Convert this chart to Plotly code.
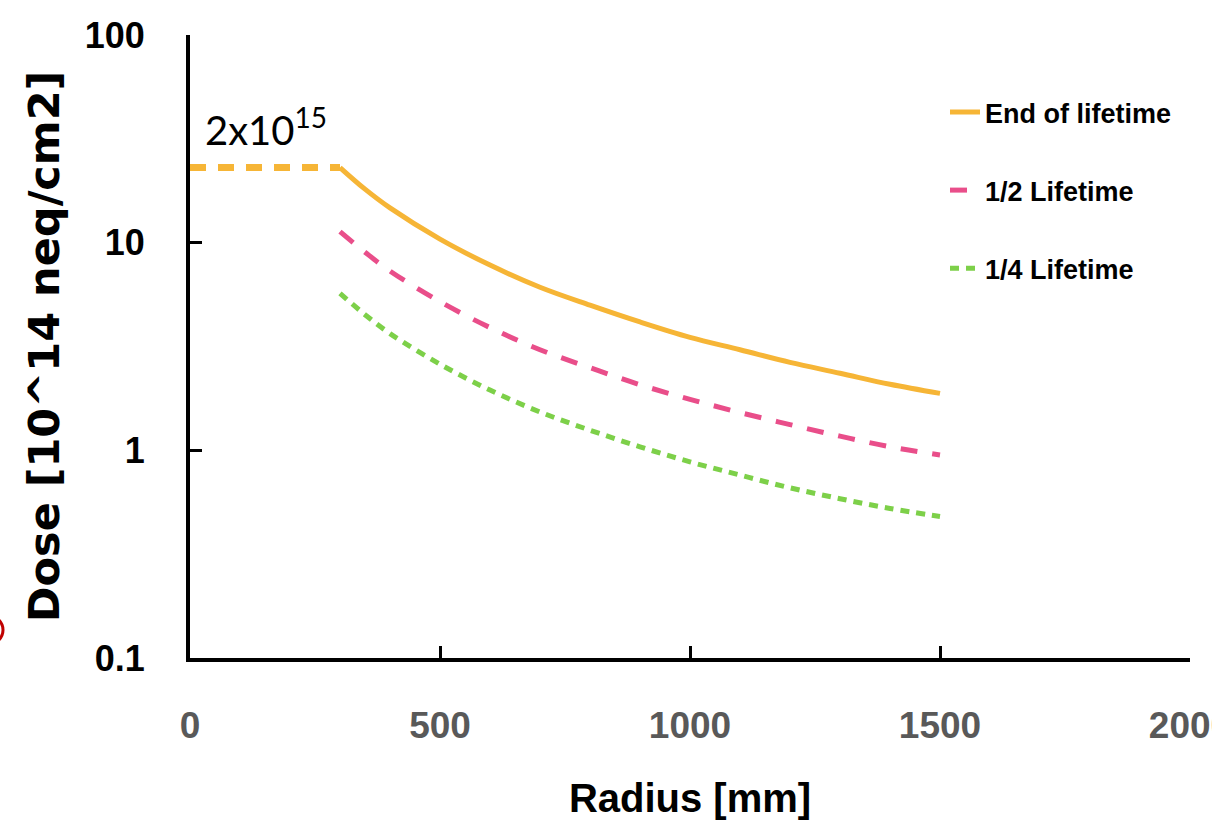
import plotly.graph_objects as go

# ---- data ----
radius = [300, 350, 400, 500, 600, 700, 800, 900, 1000, 1100, 1200, 1300, 1400, 1500]
end_of_lifetime = [23.0, 18.1, 14.7, 10.4, 7.8, 6.1, 5.0, 4.15, 3.5, 3.05, 2.65, 2.35, 2.08, 1.88]
half_lifetime = [11.3, 9.0, 7.3, 5.2, 3.9, 3.05, 2.5, 2.07, 1.76, 1.52, 1.33, 1.17, 1.04, 0.95]
quarter_lifetime = [5.7, 4.5, 3.65, 2.6, 1.95, 1.53, 1.25, 1.04, 0.88, 0.76, 0.66, 0.585, 0.525, 0.48]

flat_radius = [0, 300]
flat_dose = [23.0, 23.0]

x_ticks = [0, 500, 1000, 1500, 2000]
y_ticks = [0.1, 1, 10, 100]
y_tick_text = ["0.1", "1", "10", "100"]

ORANGE = "#F6B536"
PINK = "#E94E8A"
GREEN = "#7DD049"
SANS = "Liberation Sans, Arial, sans-serif"

fig = go.Figure()

fig.add_trace(go.Scatter(
    x=flat_radius, y=flat_dose, mode="lines", showlegend=False,
    line=dict(color=ORANGE, width=7, dash="16px,12px"), hoverinfo="skip"))

fig.add_trace(go.Scatter(
    x=radius, y=end_of_lifetime, mode="lines", name="End of lifetime",
    legendgroup="a", line=dict(color=ORANGE, width=5, shape="spline")))

fig.add_trace(go.Scatter(
    x=radius, y=half_lifetime, mode="lines", name="1/2 Lifetime",
    legendgroup="b", line=dict(color=PINK, width=5, dash="17px,15px", shape="spline")))

fig.add_trace(go.Scatter(
    x=radius, y=quarter_lifetime, mode="lines", name="1/4 Lifetime",
    legendgroup="c", line=dict(color=GREEN, width=5, dash="9px,7px", shape="spline")))

fig.update_layout(
    width=1212, height=828,
    margin=dict(l=190, r=22, t=35, b=170),
    paper_bgcolor="white", plot_bgcolor="white",
    legend=dict(
        x=0.755, xanchor="left", y=0.915, yanchor="top",
        font=dict(family=SANS, size=27, color="black", weight="bold"),
        tracegroupgap=40, traceorder="grouped",
        bgcolor="rgba(0,0,0,0)",
    ),
    xaxis=dict(
        range=[0, 2000], tickvals=x_ticks, showgrid=False, zeroline=False,
        showline=True, linecolor="black", linewidth=4,
        ticks="inside", ticklen=12, tickwidth=3, tickcolor="black",
        tickfont=dict(family=SANS, size=37, color="#595959", weight="bold"),
        ticklabelstandoff=32, ticklabeloverflow="allow", automargin=False,
        title=dict(text="Radius [mm]", standoff=40,
                   font=dict(family=SANS, size=40, color="black", weight="bold")),
    ),
    yaxis=dict(
        type="log", range=[-1, 2], tickvals=y_ticks, ticktext=y_tick_text,
        showgrid=False, zeroline=False,
        showline=True, linecolor="black", linewidth=4,
        ticks="inside", ticklen=12, tickwidth=3, tickcolor="black",
        tickfont=dict(family=SANS, size=36, color="black", weight="bold"),
        ticklabelstandoff=34, automargin=False,
        title=dict(text="Dose [10^14 neq/cm2]", standoff=13,
                   font=dict(family="DejaVu Sans", size=43, color="black", weight="bold")),
    ),
    annotations=[dict(
        x=0.013, y=0.852, xref="paper", yref="paper", xanchor="left", yanchor="middle",
        text="2x10<sup>15</sup>", showarrow=False,
        font=dict(family="Lato, Open Sans, sans-serif", size=40, color="black"),
    )],
    shapes=[dict(
        type="circle", xref="paper", yref="paper",
        x0=-0.215, x1=-0.187, y0=0.0225, y1=0.0674,
        line=dict(color="#C00000", width=3), layer="above",
    )],
)

fig.write_html("out.html")
